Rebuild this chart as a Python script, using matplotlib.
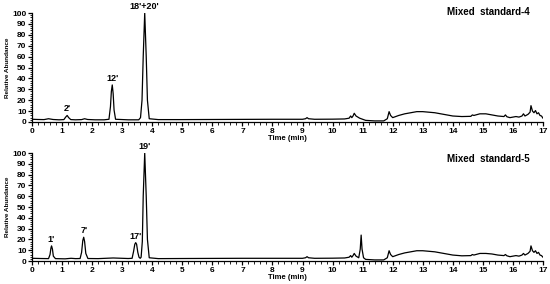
import matplotlib
matplotlib.use("Agg")
import matplotlib.pyplot as plt
from matplotlib.ticker import MultipleLocator

plt.rcParams['font.family'] = ['Liberation Sans', 'DejaVu Sans']

# ---- Mixed standard-4 trace (time in min, relative abundance) ----
t4 = [0.0, 0.2, 0.4, 0.55, 0.7, 0.9, 1.06, 1.12, 1.17, 1.22, 1.29, 1.45, 1.65, 1.75, 1.85, 2.1, 2.4,
      2.56, 2.61, 2.64, 2.67, 2.70, 2.73, 2.78, 3.2, 3.55, 3.61, 3.66, 3.70, 3.75, 3.80, 3.84, 3.90,
      4.2, 5.0, 6.0, 7.0, 8.0, 9.0, 9.1, 9.15, 9.2, 9.4, 10.0, 10.4, 10.55, 10.6, 10.64, 10.68,
      10.72, 10.78, 10.9, 11.1, 11.4, 11.7, 11.82, 11.88, 11.93, 12.0, 12.2, 12.4, 12.6, 12.8,
      13.0, 13.2, 13.4, 13.6, 13.8, 14.0, 14.3, 14.6, 14.65, 14.7, 14.9, 15.1, 15.3, 15.5, 15.7,
      15.75, 15.8, 15.9, 16.0, 16.1, 16.2, 16.3, 16.35, 16.4, 16.5, 16.57, 16.6, 16.65, 16.7,
      16.75, 16.8, 16.85, 16.9, 16.95, 17.0]
a4 = [2.5, 2.3, 2.2, 3.0, 2.3, 2.0, 2.2, 4.5, 6.0, 4.0, 2.2, 2.0, 2.2, 3.0, 2.3, 2.0, 2.0,
      2.5, 14.0, 28.0, 34.0, 26.0, 11.0, 2.5, 2.0, 2.0, 4.0, 20.0, 60.0, 100.0, 60.0, 20.0, 3.0,
      2.2, 2.2, 2.3, 2.4, 2.5, 2.5, 3.0, 4.0, 3.0, 2.5, 2.6, 2.8, 3.5, 5.5, 4.0, 5.5,
      8.0, 5.5, 3.5, 1.5, 1.0, 1.0, 3.0, 9.5, 6.0, 4.0, 6.0, 7.5, 8.5, 9.5,
      9.5, 9.0, 8.5, 7.5, 6.5, 5.5, 5.0, 5.2, 6.5, 6.0, 7.5, 7.5, 6.5, 5.5, 5.0,
      6.5, 4.8, 4.0, 4.5, 5.0, 4.5, 5.5, 7.5, 5.5, 7.0, 9.0, 15.0, 10.0, 8.5,
      10.5, 7.5, 8.5, 6.0, 5.5, 3.5]

# ---- Mixed standard-5 trace ----
t5 = [0.0, 0.3, 0.55, 0.60, 0.63, 0.65, 0.68, 0.71, 0.78, 1.1, 1.3, 1.45, 1.6, 1.65, 1.69, 1.72,
      1.75, 1.79, 1.86, 2.2, 2.7, 3.2, 3.33, 3.38, 3.42, 3.45, 3.48, 3.52, 3.56, 3.60, 3.63,
      3.67, 3.70, 3.75, 3.80, 3.84, 3.90, 4.2, 5.0, 6.0, 7.0, 8.0, 9.0, 9.1, 9.15, 9.2, 9.4,
      10.0, 10.4, 10.55, 10.6, 10.64, 10.68, 10.72, 10.78, 10.87, 10.92, 10.95, 10.98, 11.03,
      11.1, 11.4, 11.7, 11.82, 11.88, 11.93, 12.0, 12.2, 12.4, 12.6, 12.8, 13.0, 13.2, 13.4,
      13.6, 13.8, 14.0, 14.3, 14.6, 14.65, 14.7, 14.9, 15.1, 15.3, 15.5, 15.7, 15.75, 15.8,
      15.9, 16.0, 16.1, 16.2, 16.3, 16.35, 16.4, 16.5, 16.57, 16.6, 16.65, 16.7, 16.75, 16.8,
      16.85, 16.9, 16.95, 17.0]
a5 = [2.5, 2.3, 2.2, 6.0, 12.0, 14.0, 11.0, 4.5, 2.2, 2.0, 2.5, 2.2, 2.3, 8.0, 19.0, 22.0,
      18.0, 7.0, 2.3, 2.2, 2.8, 2.3, 2.5, 9.0, 15.5, 17.0, 15.5, 8.0, 3.5, 2.5, 3.5,
      18.0, 60.0, 100.0, 60.0, 20.0, 3.0, 2.2, 2.3, 2.4, 2.5, 2.5, 2.5, 3.0, 4.0, 3.0, 2.5,
      2.6, 2.8, 3.5, 5.0, 3.5, 5.0, 7.0, 4.5, 3.0, 11.0, 24.0, 11.0, 3.0,
      1.5, 1.0, 1.0, 3.0, 9.5, 6.0, 4.0, 6.0, 7.5, 8.5, 9.5, 9.5, 9.0, 8.5,
      7.5, 6.5, 5.5, 4.8, 5.0, 6.0, 5.5, 7.0, 7.0, 6.5, 5.5, 5.0, 6.0, 4.8,
      4.0, 4.5, 5.0, 4.5, 5.5, 7.0, 5.5, 7.0, 9.0, 14.0, 9.5, 8.0,
      9.5, 7.0, 8.0, 5.5, 5.0, 3.5]

# peak labels
labels4 = ["2'", "12'", "18'+20'"]
lab_t4 = [1.17, 2.67, 3.75]
lab_a4 = [6.0, 34.0, 100.0]
labels5 = ["1'", "7'", "17'", "19'"]
lab_t5 = [0.65, 1.72, 3.45, 3.75]
lab_a5 = [14.0, 22.0, 17.0, 100.0]

titles = ["Mixed  standard-4", "Mixed  standard-5"]

fig = plt.figure(figsize=(5.5, 2.84), dpi=100)
ax1 = fig.add_axes([32/550, 1-122/284, (543-32)/550, 109/284])
ax2 = fig.add_axes([32/550, 1-261/284, (543-32)/550, 108/284])

for ax, t, a, labs, lt, la in [(ax1, t4, a4, labels4, lab_t4, lab_a4),
                               (ax2, t5, a5, labels5, lab_t5, lab_a5)]:
    ax.plot(t, a, color='black', lw=0.9)
    ax.set_xlim(0, 17)
    ax.set_ylim(0, 100)
    ax.spines['top'].set_visible(False)
    ax.spines['right'].set_visible(False)
    ax.spines['left'].set_linewidth(0.9)
    ax.spines['bottom'].set_linewidth(0.9)
    ax.xaxis.set_major_locator(MultipleLocator(1))
    ax.xaxis.set_minor_locator(MultipleLocator(0.2))
    ax.yaxis.set_major_locator(MultipleLocator(10))
    ax.yaxis.set_minor_locator(MultipleLocator(2))
    ax.tick_params(which='major', length=3, width=0.9, labelsize=6, pad=1)
    ax.tick_params(which='minor', length=1.8, width=0.6)
    for lbl in ax.get_xticklabels() + ax.get_yticklabels():
        lbl.set_fontweight('bold')
    ax.set_xlabel('Time (min)', fontsize=5.5, fontweight='bold', labelpad=0)
    ax.set_ylabel('Relative Abundance', fontsize=4.6, fontweight='bold', labelpad=1.5)
    for s, x, y in zip(labs, lt, la):
        ax.annotate(s, (x, y), xytext=(0, 1.5), textcoords='offset points',
                    ha='center', va='bottom', fontsize=6.5, fontweight='bold',
                    annotation_clip=False)

fig.text(530/550, 1-12/284, titles[0], fontsize=7, fontweight='bold', ha='right', va='center')
fig.text(530/550, 1-159/284, titles[1], fontsize=7, fontweight='bold', ha='right', va='center')

fig.savefig('out.png', dpi=100)
